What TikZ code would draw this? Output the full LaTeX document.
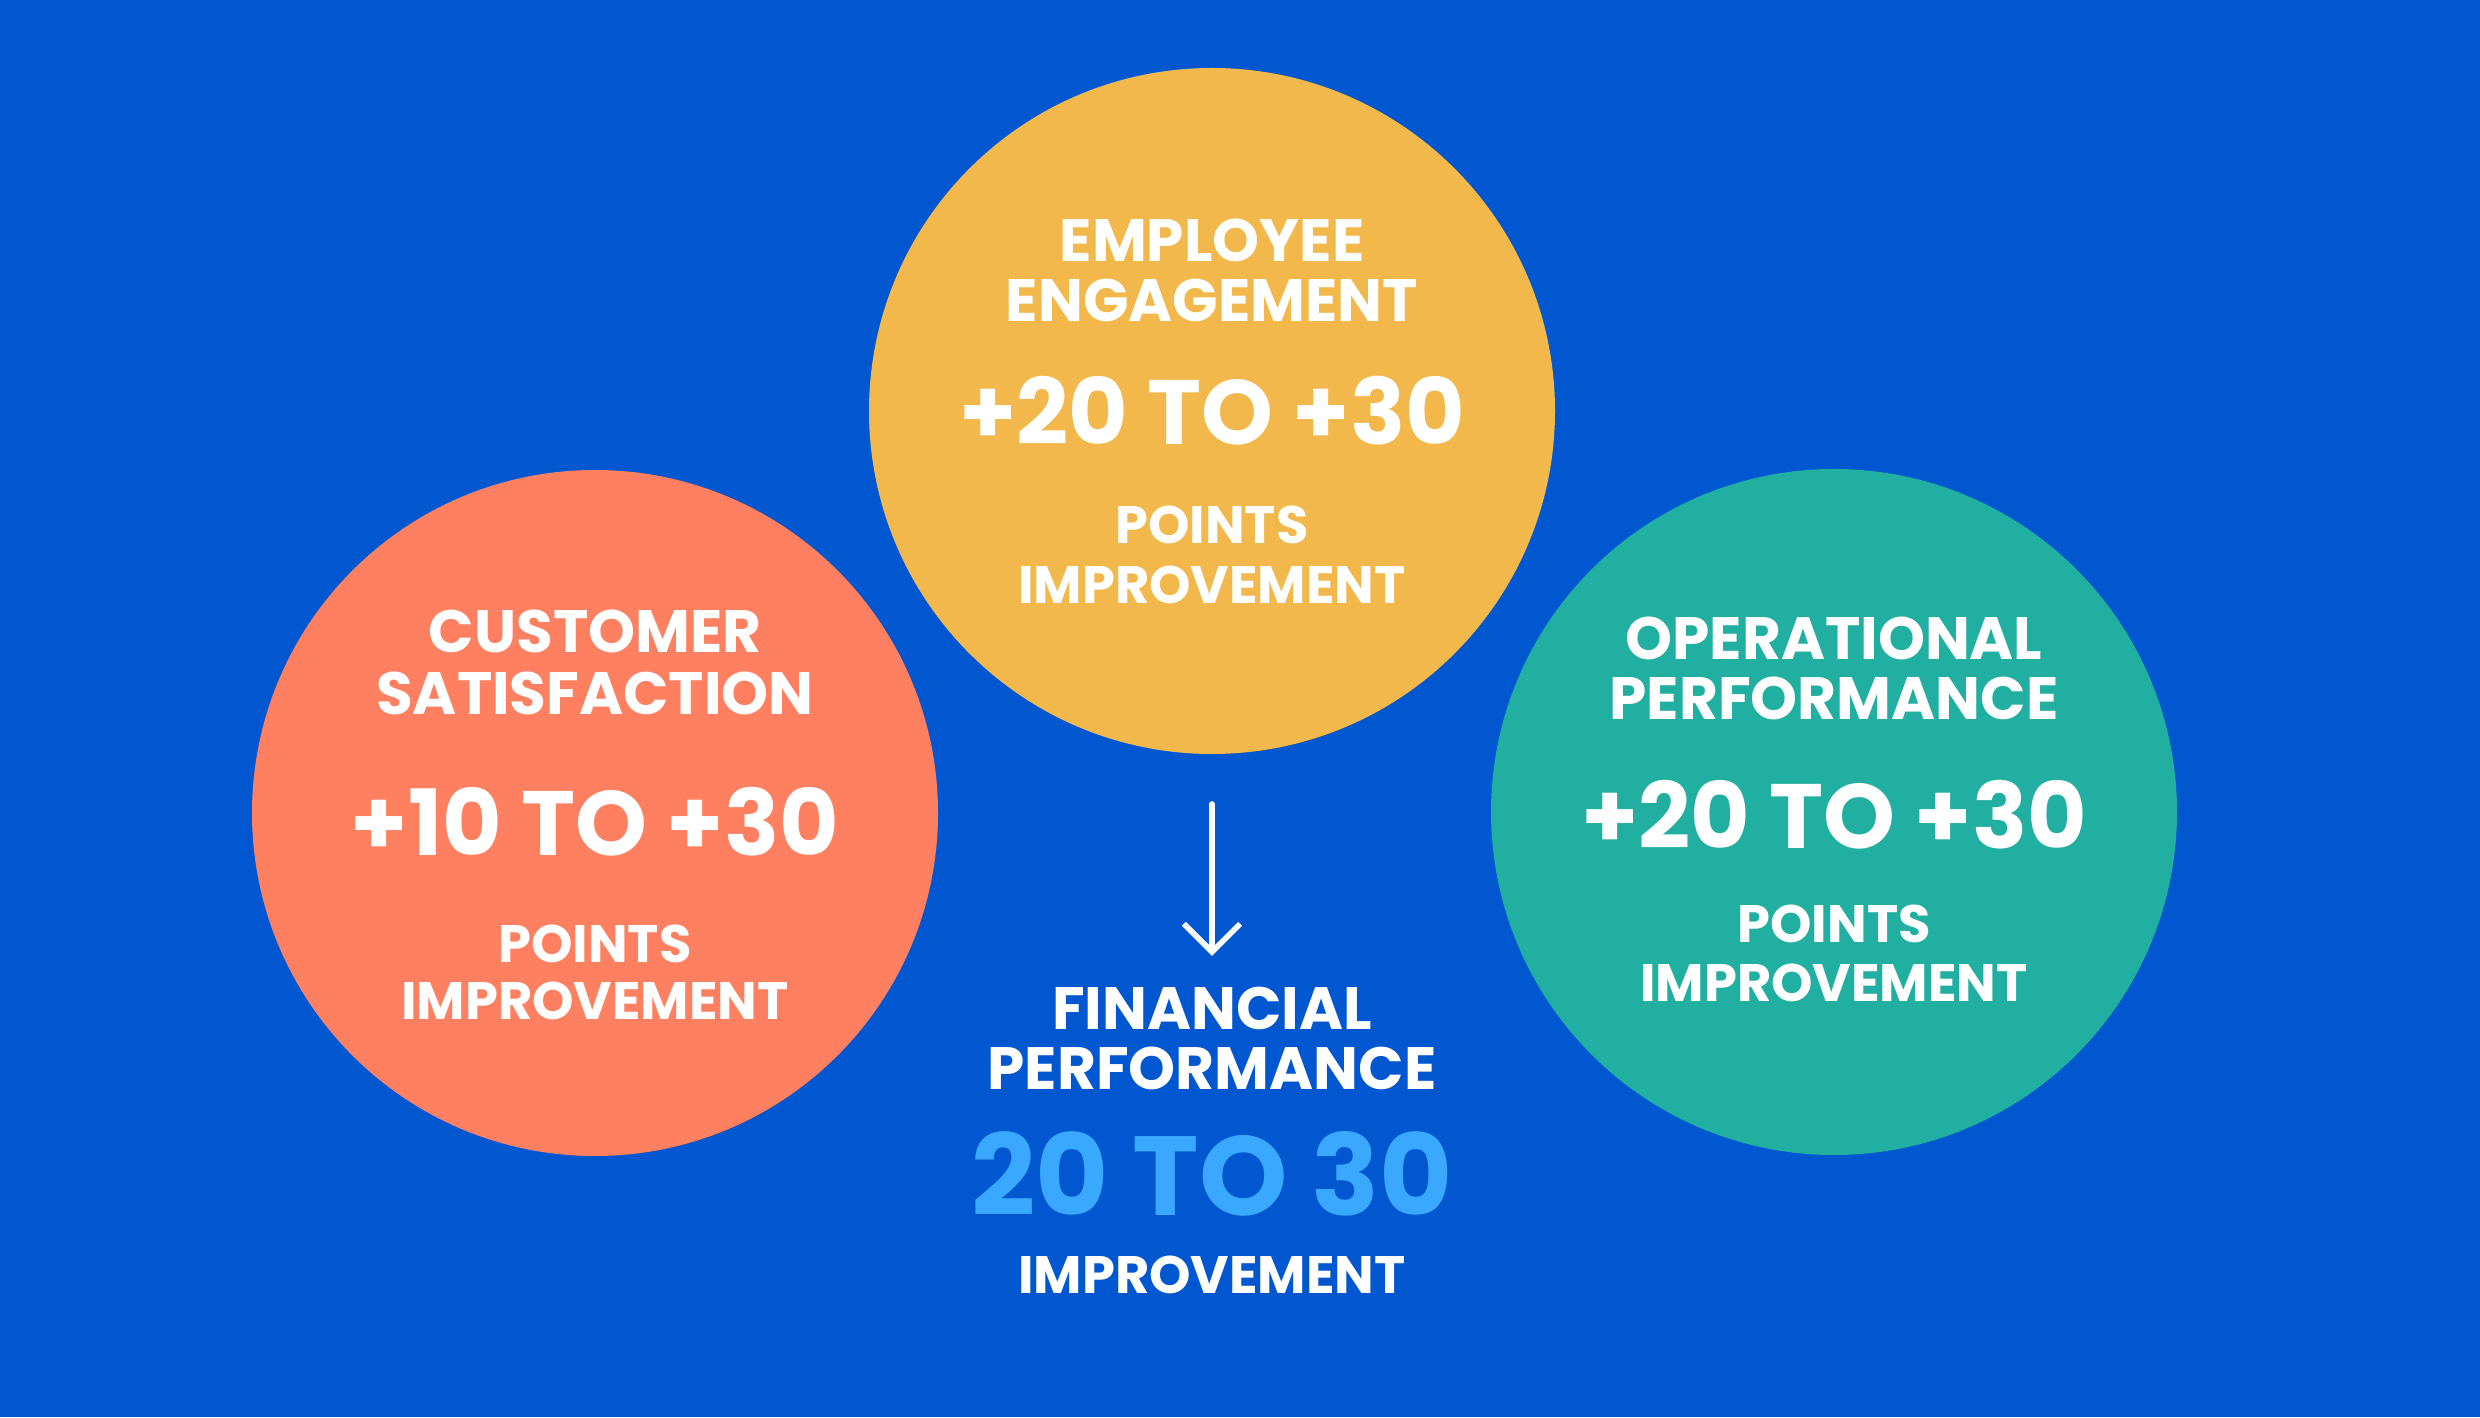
\documentclass[tikz,border=0pt]{standalone}
\usepackage{fontspec}
\setmainfont{Poppins}
\usetikzlibrary{positioning,arrows.meta}
\definecolor{bgblue}{HTML}{0057D0}
\definecolor{custcol}{HTML}{FF8060}
\definecolor{empcol}{HTML}{F2B84B}
\definecolor{opcol}{HTML}{20AFA0}
\definecolor{finblue}{HTML}{3AA8FF}
\tikzset{
  bubble/.style={circle, minimum size=6.86cm, inner sep=0pt},
  title/.style={text=white, font=\fontsize{17}{18}\selectfont\bfseries, inner sep=0pt},
  bignum/.style={text=white, font=\fontsize{26}{28}\selectfont\bfseries, inner sep=0pt},
  small/.style={text=white, font=\fontsize{15}{16}\selectfont\bfseries, inner sep=0pt}
}
\begin{document}
\begin{tikzpicture}
\fill[bgblue] (0,0) rectangle (24.8,14.17);
\useasboundingbox (0,0) rectangle (24.8,14.17);
% circles
\node[bubble, fill=empcol] (emp) at (12.12,10.06) {};
\node[bubble, fill=custcol] (cust) at (5.95,6.04) {};
\node[bubble, fill=opcol] (oper) at (18.34,6.05) {};
% employee engagement
\node[title] (empa) at ([yshift=1.71cm]emp.center) {EMPLOYEE};
\node[title] (empb) at ([yshift=1.11cm]emp.center) {ENGAGEMENT};
\node[bignum] (empn) at (emp.center) {+20 TO +30};
\node[small] (empc) at ([yshift=-1.14cm]emp.center) {POINTS};
\node[small] (empd) at ([yshift=-1.74cm]emp.center) {IMPROVEMENT};
% customer satisfaction
\node[title] (custa) at ([yshift=1.82cm]cust.center) {CUSTOMER};
\node[title] (custb) at ([yshift=1.20cm]cust.center) {SATISFACTION};
\node[bignum] (custn) at ([yshift=-0.09cm]cust.center) {+10 TO +30};
\node[small] (custc) at ([yshift=-1.31cm]cust.center) {POINTS};
\node[small] (custd) at ([yshift=-1.88cm]cust.center) {IMPROVEMENT};
% operational performance
\node[title] (opera) at ([yshift=1.74cm]oper.center) {OPERATIONAL};
\node[title] (operb) at ([yshift=1.14cm]oper.center) {PERFORMANCE};
\node[bignum] (opern) at ([yshift=-0.03cm]oper.center) {+20 TO +30};
\node[small] (operc) at ([yshift=-1.12cm]oper.center) {POINTS};
\node[small] (operd) at ([yshift=-1.71cm]oper.center) {IMPROVEMENT};
% financial performance
\coordinate (arrtop) at (12.12,6.13);
\node[title] (fina) at (12.12,4.09) {FINANCIAL};
\node[title] (finb) at (12.12,3.49) {PERFORMANCE};
\node[bignum, text=finblue, font=\fontsize{32}{34}\selectfont\bfseries] (finn) at (12.12,2.43) {20 TO 30};
\node[small] (finc) at (12.12,1.42) {IMPROVEMENT};
\draw[white, line width=1.6pt, line cap=round, -{Straight Barb[length=8pt, width=16pt]}] (arrtop) -- ([yshift=0.3cm]fina.north);
\end{tikzpicture}
\end{document}
